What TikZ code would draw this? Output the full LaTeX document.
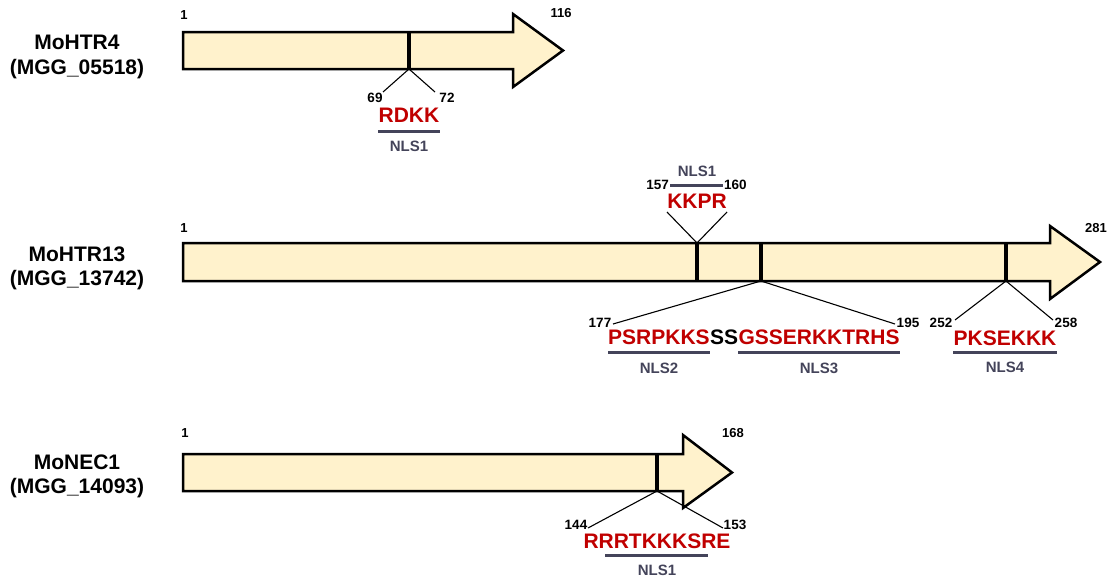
\documentclass[tikz,border=0pt]{standalone}
\usepackage{fontspec}
\setmainfont{Liberation Sans}
\definecolor{seqred}{HTML}{C00000}
\definecolor{nlsgray}{HTML}{44445A}
\definecolor{cream}{HTML}{FFF2CC}
\begin{document}
\begin{tikzpicture}[x=1pt,y=-1pt,
  gene/.style={draw=black, line width=2.5pt, fill=cream, line join=miter},
  markline/.style={line width=3.5pt},
  conn/.style={line width=1.1pt},
  gname/.style={font=\bfseries\fontsize{21}{24}\selectfont, inner sep=0, text height=15pt, text depth=0pt},
  posn/.style={font=\bfseries\fontsize{13.5}{16}\selectfont, inner sep=0, text height=9.7pt, text depth=0pt},
  endn/.style={font=\bfseries\fontsize{13}{15}\selectfont, inner sep=0, text height=9.3pt, text depth=0pt},
  seq/.style={font=\bfseries\fontsize{21}{24}\selectfont, text=seqred, inner sep=0, text height=15pt, text depth=0pt},
  nls/.style={font=\bfseries\fontsize{15}{18}\selectfont, text=nlsgray, inner sep=0, text height=10.8pt, text depth=0pt},
  bar/.style={draw=nlsgray, line width=3pt}]
\useasboundingbox (0,0) rectangle (1120,581);

% ---------- gene names ----------
\node[gname] (g1a) at (77,42) {MoHTR4};
\node[gname] (g1b) at (77,67) {(MGG\_05518)};
\node[gname] (g2a) at (77,254) {MoHTR13};
\node[gname] (g2b) at (77,278) {(MGG\_13742)};
\node[gname] (g3a) at (77,462) {MoNEC1};
\node[gname] (g3b) at (77,486) {(MGG\_14093)};

% ---------- MoHTR4 ----------
\draw[gene] (183,32) -- (513,32) -- (513,14) -- (563,50.5) -- (513,87) -- (513,69) -- (183,69) -- cycle;
\node[endn] (e1s) at (184,15) {1};
\node[endn] (e1e) at (561,13) {116};
\coordinate (m1t) at (409,32);
\coordinate (m1b) at (409,69);
\draw[markline] (m1t) -- (m1b);
\coordinate (c1l) at (383,92);
\coordinate (c1r) at (435,92);
\draw[conn] (c1l) -- (m1b) -- (c1r);
\node[posn] (p1a) at (375,98) {69};
\node[posn] (p1b) at (447,98) {72};
\node[seq] (s1) at (409,115) {RDKK};
\draw[bar] (s1.west |- 0,131) -- (s1.east |- 0,131);
\node[nls] (n1) at (409,146) {NLS1};

% ---------- MoHTR13 ----------
\draw[gene] (183,243) -- (1050,243) -- (1050,226) -- (1100,262) -- (1050,299) -- (1050,281) -- (183,281) -- cycle;
\node[endn] (e2s) at (184,228) {1};
\node[endn] (e2e) at (1096,228) {281};
\coordinate (m2t) at (697,243);
\coordinate (m2b) at (697,281);
\coordinate (m3t) at (761,243);
\coordinate (m3b) at (761,281);
\coordinate (m4t) at (1006,243);
\coordinate (m4b) at (1006,281);
\draw[markline] (m2t) -- (m2b);
\draw[markline] (m3t) -- (m3b);
\draw[markline] (m4t) -- (m4b);
% NLS1 above
\coordinate (c2l) at (667,212);
\coordinate (c2r) at (727,212);
\draw[conn] (c2l) -- (m2t) -- (c2r);
\node[seq] (s2) at (697,201) {KKPR};
\draw[bar] (670,185) coordinate (b2l) -- (723,185) coordinate (b2r);
\node[posn, anchor=east] (p2a) at ([xshift=-1pt]b2l) {157};
\node[posn, anchor=west] (p2b) at ([xshift=1pt]b2r) {160};
\node[nls] (n2) at (697,171) {NLS1};
% NLS2 / NLS3
\coordinate (c3l) at (613,324);
\coordinate (c3r) at (895,324);
\draw[conn] (c3l) -- (m3b) -- (c3r);
\node[posn] (p3a) at (600,323) {177};
\node[posn] (p3b) at (908,323) {195};
\node[seq, anchor=west] (s3a) at (608,337) {PSRPKKS};
\node[seq, anchor=west, text=black] (s3b) at (s3a.east) {SS};
\node[seq, anchor=west] (s3c) at (s3b.east) {GSSERKKTRHS};
\draw[bar] (s3a.west |- 0,352) -- (s3a.east |- 0,352);
\draw[bar] (s3c.west |- 0,352) -- (s3c.east |- 0,352);
\node[nls] (n3a) at (s3a.center |- 0,368) {NLS2};
\node[nls] (n3b) at (s3c.center |- 0,368) {NLS3};
% NLS4
\coordinate (c4l) at (955,320);
\coordinate (c4r) at (1053,320);
\draw[conn] (c4l) -- (m4b) -- (c4r);
\node[posn] (p4a) at (941,323) {252};
\node[posn] (p4b) at (1066,323) {258};
\node[seq] (s4) at (1005,338) {PKSEKKK};
\draw[bar] (s4.west |- 0,352) -- (s4.east |- 0,352);
\node[nls] (n4) at (1005,367) {NLS4};

% ---------- MoNEC1 ----------
\draw[gene] (183,454) -- (683,454) -- (683,435) -- (732,472.5) -- (683,508) -- (683,491) -- (183,491) -- cycle;
\node[endn] (e3s) at (185,433) {1};
\node[endn] (e3e) at (733,433) {168};
\coordinate (m5t) at (657,454);
\coordinate (m5b) at (657,491);
\draw[markline] (m5t) -- (m5b);
\coordinate (c5l) at (588,528);
\coordinate (c5r) at (723,528);
\draw[conn] (c5l) -- (m5b) -- (c5r);
\node[posn] (p5a) at (576,525) {144};
\node[posn] (p5b) at (735,525) {153};
\node[seq] (s5) at (657,541) {RRRTKKKSRE};
\draw[bar] (605,555) -- (708,555);
\node[nls] (n5) at (657,570) {NLS1};
\end{tikzpicture}
\end{document}
